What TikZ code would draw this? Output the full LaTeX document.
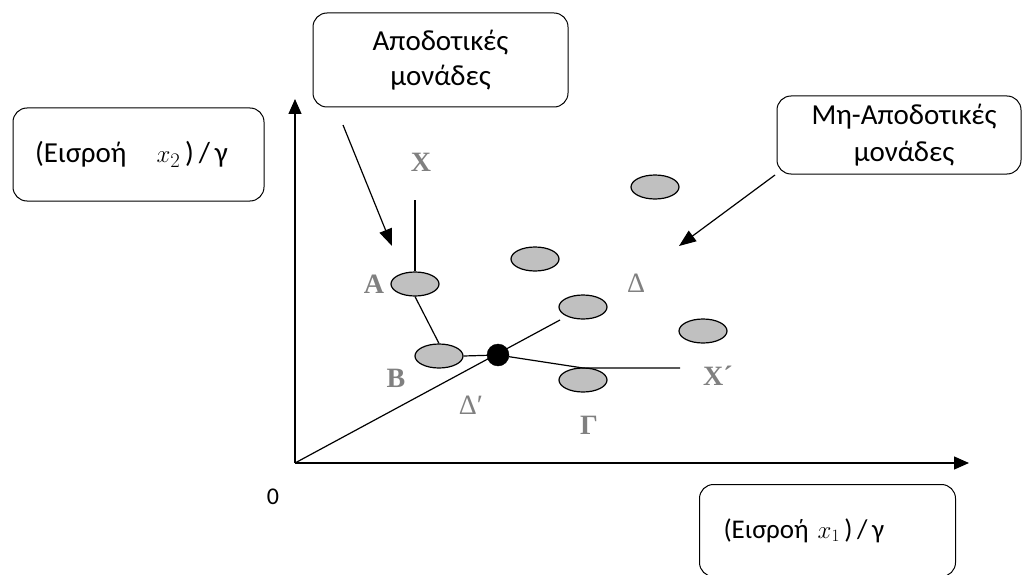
\documentclass[tikz,border=0pt]{standalone}
\usepackage{fontspec}
\setmainfont{Carlito}
\newfontfamily\lblfont{Liberation Serif}
\usetikzlibrary{arrows.meta,shapes.geometric}
\definecolor{ellgray}{HTML}{C0C0C0}
\definecolor{lblgray}{HTML}{808080}
\begin{document}
\begin{tikzpicture}[x=1pt,y=-1pt,
  box/.style={draw, line width=1pt, rounded corners=14pt, align=center, inner sep=0pt,
    font=\fontsize{29}{35}\selectfont},
  dmu/.style={draw, ellipse, fill=ellgray, line width=1.2pt, minimum width=48pt, minimum height=24pt, inner sep=0pt},
  eff/.style={draw, circle, fill=black, minimum size=22pt, inner sep=0pt},
  lbl/.style={text=lblgray, font=\lblfont\bfseries\fontsize{28}{28}\selectfont, inner sep=0pt},
  lbln/.style={text=lblgray, font=\lblfont\fontsize{28}{28}\selectfont, inner sep=0pt},
  axis/.style={line width=1.3pt, -{Triangle[length=15pt,width=13pt]}},
  pointer/.style={line width=1.2pt, -{Triangle[length=17pt,width=13pt]}},
  frontier/.style={line width=1.2pt}]
\useasboundingbox (0,0) rectangle (1022,575);

% boxes
\node[box, minimum width=251pt, minimum height=93pt, text width=251pt, align=left] (bx2) at (138.5,154.5)
  {\hspace*{22pt}(Εισροή\hspace{30pt}$x_2$\,)\,/\,γ};
\node[box, minimum width=255pt, minimum height=94pt] (beff) at (440.5,60)
  {Αποδοτικές\\μονάδες};
\node[box, minimum width=244pt, minimum height=78pt, text width=244pt,
  font=\fontsize{29}{37}\selectfont] (bneff) at (899,135)
  {\hspace*{10pt}Μη-Αποδοτικές\\\hspace*{10pt}μονάδες};
\node[box, minimum width=256pt, minimum height=92pt, anchor=north west, text width=256pt, align=left,
  font=\fontsize{27}{35}\selectfont] (bx1) at (699,484)
  {\hspace*{24pt}(Εισροή\ $x_1$\,)\,/\,γ};

% axes
\coordinate (O) at (295,463);
\coordinate (Ytop) at (295,99);
\coordinate (Xend) at (969,463);
\draw[axis] (O) -- (Ytop);
\draw[axis] (O) -- (Xend);
\node[font=\fontsize{24}{24}\selectfont] (zero) at (273,497) {0};

% units
\node[dmu] (A) at (415,284) {};
\node[dmu] (B) at (439,356) {};
\node[dmu] (G) at (583,380) {};
\node[dmu] (D) at (583,307) {};
\node[dmu] (E1) at (535,259) {};
\node[dmu] (E2) at (655,187) {};
\node[dmu] (E3) at (703,331) {};
\node[eff] (Dp) at (498,355) {};

% frontier
\coordinate (Xtop) at (415,200);
\coordinate (Gtop) at (583,368);
\coordinate (Xr) at (680,368);
\draw[frontier] (Xtop) -- (A.north);
\draw[frontier] (A.south) -- (B.north);
\draw[frontier] (B.east) -- (Dp);
\draw[frontier] (Dp) -- (Gtop) -- (Xr);
\coordinate (Rend) at (560,320);
\draw[frontier] (O) -- (Rend);

% labels
\node[lbl] (lX) at (421,162) {X};
\node[lbl] (lA) at (374,284) {A};
\node[lbl] (lB) at (396,378) {B};
\node[lbln] (lDp) at (471,405) {Δ′};
\node[lbl] (lG) at (589,425) {Γ};
\node[lbln] (lD) at (636,283) {Δ};
\node[lbl] (lXp) at (718,376) {X´};

% pointers
\coordinate (p1s) at (343,125);
\coordinate (p1e) at (392,246);
\coordinate (p2s) at (775,175);
\coordinate (p2e) at (679,246);
\draw[pointer] (p1s) -- (p1e);
\draw[pointer] (p2s) -- (p2e);
\end{tikzpicture}
\end{document}
